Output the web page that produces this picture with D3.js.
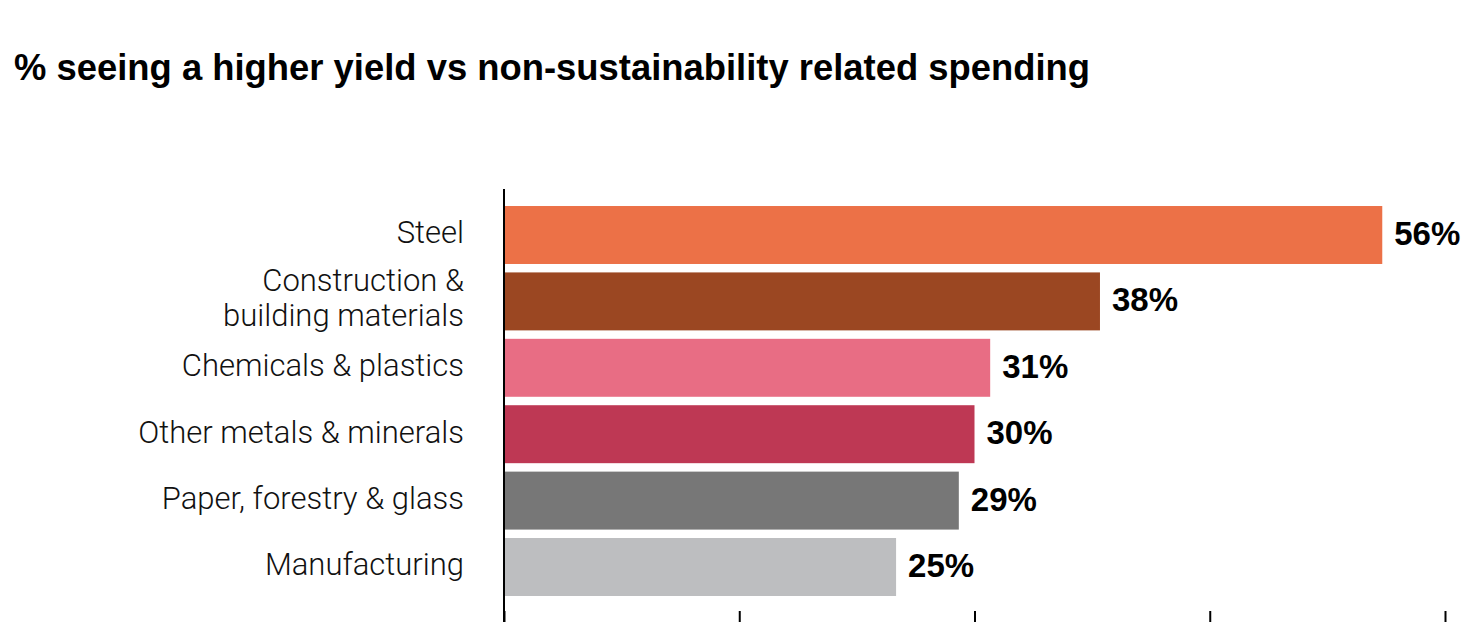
<!DOCTYPE html>
<html>
<head>
<meta charset="utf-8">
<script src="https://cdn.jsdelivr.net/npm/d3@7"></script>
<style>
  html, body { margin: 0; padding: 0; background: #ffffff; }
  svg { display: block; }
</style>
</head>
<body>
<svg id="chart" width="1463" height="622"></svg>
<script>
// Sector shares seeing a higher yield from sustainability spending
const titleText = "% seeing a higher yield vs non-sustainability related spending";
const categories = [
  ["Steel"],
  ["Construction &", "building materials"],
  ["Chemicals & plastics"],
  ["Other metals & minerals"],
  ["Paper, forestry & glass"],
  ["Manufacturing"]
];
const values = [56, 38, 31, 30, 29, 25];
const colors = ["#ec7147", "#9b4722", "#e86d84", "#be3854", "#777777", "#bdbec0"];
const tickValues = [0, 15, 30, 45, 60];

const svg = d3.select("#chart");
const keys = categories.map(c => c.join(" "));

const x = d3.scaleLinear().domain([0, 60]).range([504, 1445]);
const y = d3.scaleBand().domain(keys).range([201.8, 600.2])
  .paddingInner(0.127).paddingOuter(0.0635);

// Title
svg.append("text")
  .attr("x", 14).attr("y", 80)
  .attr("font-family", "'Liberation Sans', Arial, sans-serif")
  .attr("font-weight", 700)
  .attr("font-size", 37)
  .attr("fill", "#000")
  .attr("textLength", 1076)
  .attr("lengthAdjust", "spacingAndGlyphs")
  .text(titleText);

// Bars
svg.append("g").selectAll("rect")
  .data(values)
  .join("rect")
  .attr("x", x(0))
  .attr("y", (d, i) => y(keys[i]))
  .attr("width", d => x(d) - x(0))
  .attr("height", y.bandwidth())
  .attr("fill", (d, i) => colors[i]);

// Value labels
svg.append("g").selectAll("text")
  .data(values)
  .join("text")
  .attr("x", d => x(d) + 12)
  .attr("y", (d, i) => y(keys[i]) + y.bandwidth() / 2)
  .attr("dy", "0.3em")
  .attr("font-family", "'Liberation Sans', Arial, sans-serif")
  .attr("font-weight", 700)
  .attr("font-size", 33)
  .attr("fill", "#000")
  .text(d => d + "%");

// Category labels (right-aligned, multi-line where needed)
const lineH = 35;
const catG = svg.append("g");
categories.forEach((lines, i) => {
  const cy = y(keys[i]) + y.bandwidth() / 2;
  const shift = lines.length > 1 ? -1 : 0;
  const t = catG.append("text")
    .attr("text-anchor", "end")
    .attr("font-family", "Roboto, 'Liberation Sans', sans-serif")
    .attr("font-weight", 300)
    .attr("font-size", 31)
    .attr("fill", "#111");
  lines.forEach((ln, j) => {
    t.append("tspan")
      .attr("x", 464)
      .attr("y", cy + shift + (j - (lines.length - 1) / 2) * lineH)
      .attr("dy", "0.27em")
      .text(ln);
  });
});

// Vertical baseline
svg.append("line")
  .attr("x1", x(0)).attr("x2", x(0))
  .attr("y1", 189).attr("y2", 622)
  .attr("stroke", "#000").attr("stroke-width", 2);

// Bottom ticks
const axis = svg.append("g")
  .attr("transform", "translate(0,611)")
  .call(d3.axisBottom(x).tickValues(tickValues).tickFormat("").tickSizeInner(14).tickSizeOuter(0));
axis.select(".domain").remove();
axis.selectAll(".tick line").attr("stroke", "#000").attr("stroke-width", 2);
</script>
</body>
</html>
